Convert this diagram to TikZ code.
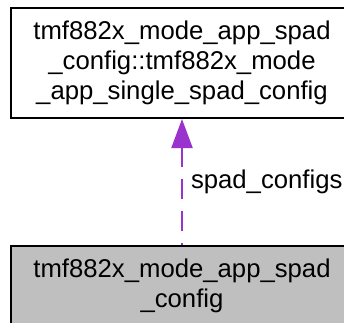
\documentclass[tikz,border=0pt]{standalone}
\usepackage{fontspec}
\setmainfont{Liberation Sans}
\usepackage{tikz}
\usetikzlibrary{arrows.meta,positioning}
\definecolor{depx}{HTML}{9A32CD}
\definecolor{grayx}{HTML}{BFBFBF}
\tikzset{
  cls/.style={draw=black,line width=2pt,align=center,inner sep=0pt,minimum width=342pt,font=\fontsize{25.7}{30}\selectfont},
  dep/.style={-{Triangle[length=29pt,width=21pt]},depx,line width=2pt,dash pattern=on 20pt off 12pt,dash phase=18pt},
  lbl/.style={font=\fontsize{25.7}{30}\selectfont,text=black,inner sep=0pt}
}
\begin{document}
\begin{tikzpicture}[x=1pt,y=1pt]
\useasboundingbox (0,0) rectangle (344,322);
\node[cls,minimum height=110pt] (single) at (182,259)
  {tmf882x\_mode\_app\_spad\\\_config::tmf882x\_mode\\\_app\_single\_spad\_config};
\node[cls,fill=grayx,minimum height=80pt] (spadcfg) at (182,36)
  {tmf882x\_mode\_app\_spad\\\_config};
\draw[dep] (spadcfg) -- (single)
  node[lbl,right=8pt,pos=0.5] (edgelbl) {spad\_configs};
\end{tikzpicture}
\end{document}
